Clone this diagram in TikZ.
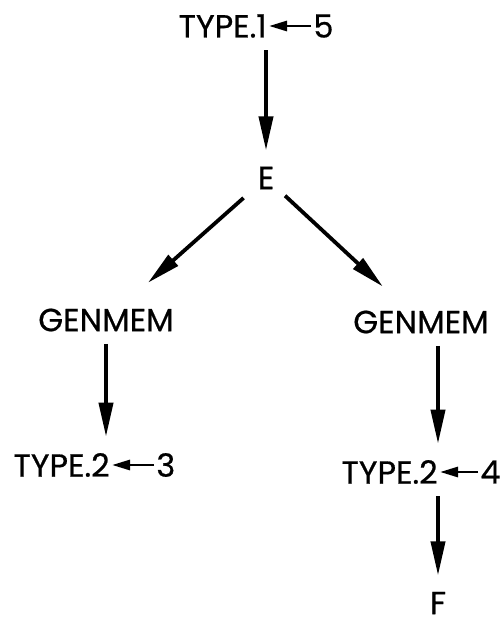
\documentclass[tikz,border=0pt]{standalone}
\usepackage{fontspec}
\setmainfont[FakeBold=0.6]{Poppins}
\usepackage{tikz}
\usetikzlibrary{arrows.meta,positioning,calc}
\tikzset{
  word/.style={inner sep=3pt, font=\fontsize{16}{18}\selectfont},
  sig/.style={-{Triangle[length=17pt,width=7pt]}, line width=1.9pt,
              shorten <=3pt, shorten >=5pt},
  tick/.style={-{Triangle[length=9pt,width=5pt]}, line width=1.4pt,
               shorten <=-2pt, shorten >=-2pt},
}

\begin{document}
\begin{tikzpicture}[x=0.5pt, y=-0.5pt, node distance=17pt]
    \useasboundingbox (0,0) rectangle (501,628);
    \node[word, anchor=east] (t1) at (273,26) {TYPE.1};
    \node[word, right=of t1] (n5) {5};
    \node[word] (e) at (266,178) {E};
    \node[word] (g1) at (106,320) {GENMEM};
    \node[word] (g2) at (421,322) {GENMEM};
    \node[word, anchor=east] (t2a) at (116,465) {TYPE.2};
    \node[word, right=of t2a] (n3) {3};
    \node[word, anchor=east] (t2b) at (444,472) {TYPE.2};
    \node[word, right=15pt of t2b] (n4) {4};
    \node[word] (f) at (438,603) {F};
    \draw[tick] (n5)--(t1); \draw[tick] (n3)--(t2a); \draw[tick] (n4)--(t2b);
    \draw[sig] (t1.south -| e)--(e);
    \draw[sig,shorten <=0pt,shorten >=0pt] ($(e)!15pt!(g1)$)--($(g1)!28pt!(e)$);
    \draw[sig,shorten <=0pt,shorten >=0pt] ($(e)!13pt!(g2)$)--($(g2)!26pt!(e)$);
    \draw[sig] (g1)--(g1 |- t2a.north);
    \draw[sig] (g2.south -| f)--(t2b.north -| f);
    \draw[sig] (t2b.south -| f)--(f);
  \end{tikzpicture}
\end{document}
